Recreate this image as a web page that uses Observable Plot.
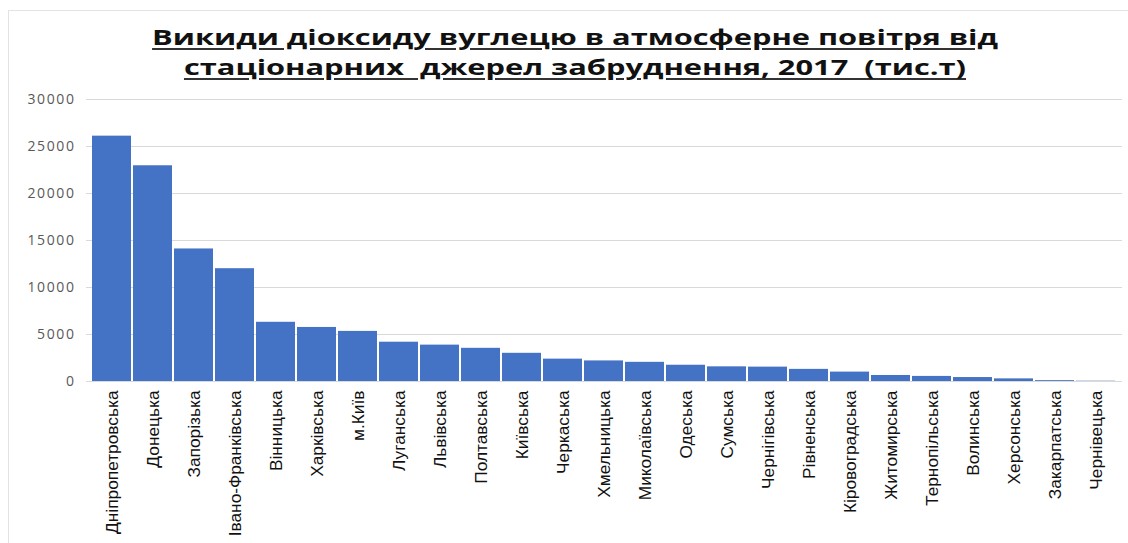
<!DOCTYPE html>
<html>
<head>
<meta charset="utf-8">
<script src="https://cdn.jsdelivr.net/npm/d3@7"></script>
<script src="https://cdn.jsdelivr.net/npm/@observablehq/plot@0.6"></script>
<style>
  html, body { margin: 0; padding: 0; background: #fff; overflow: hidden; }
  #frame { position: absolute; left: 8px; top: 10px; width: 1130px; height: 540px; border-left: 1px solid #e3e3e3; border-top: 1px solid #e3e3e3; }
  #title { position: absolute; left: 0; top: 21px; width: 1150px; text-align: center; transform: scaleX(1.4); transform-origin: 575px 0; font-family: "Open Sans", sans-serif; font-weight: 700; font-size: 22px; line-height: 30px; color: #111; text-decoration: underline; text-decoration-thickness: 2px; text-underline-offset: 3px; text-decoration-color: #333; }
  #chart { position: absolute; left: 0; top: 90px; }
  #chart g[aria-label="y-axis tick label"] text { letter-spacing: 1.6px; }
</style>
</head>
<body>
<div id="frame"></div>
<div id="title">Викиди діоксиду вуглецю в атмосферне повітря від<br>стаціонарних&nbsp; джерел забруднення, 2017&nbsp; (тис.т)</div>
<div id="chart"></div>
<script>
const regions = ["Дніпропетровська","Донецька","Запорізька","Івано-Франківська","Вінницька","Харківська","м.Київ","Луганська","Львівська","Полтавська","Київська","Черкаська","Хмельницька","Миколаївська","Одеська","Сумська","Чернігівська","Рівненська","Кіровоградська","Житомирська","Тернопільська","Волинська","Херсонська","Закарпатська","Чернівецька"];
const emissions = [26100, 22950, 14100, 12000, 6300, 5750, 5330, 4180, 3870, 3530, 3000, 2380, 2190, 2040, 1730, 1560, 1530, 1290, 1000, 640, 540, 420, 280, 90, 30];
const yTicks = [0, 5000, 10000, 15000, 20000, 25000, 30000];

const data = regions.map((r, i) => ({region: r, value: emissions[i]}));

const chart = Plot.plot({
  width: 1128,
  height: 453,
  marginTop: 9,
  marginBottom: 162,
  marginLeft: 86,
  marginRight: 6,
  style: {background: "transparent"},
  x: {domain: regions, padding: 0.04, label: null},
  y: {domain: [0, 30000], ticks: yTicks, label: null},
  marks: [
    Plot.gridY(yTicks, {stroke: "#d9d9d9", strokeOpacity: 1, strokeWidth: 1}),
    Plot.barY(data, {x: "region", y: "value", fill: "#4472c4"}),
    Plot.axisY(yTicks, {tickSize: 0, tickPadding: 11, tickFormat: d => String(d), fontSize: 14, fill: "#595959", fontFamily: "Open Sans, sans-serif", label: null}),
    Plot.axisX({tickSize: 0, tickRotate: -90, tickPadding: 9, fontSize: 17.3, fill: "#111", fontFamily: "'Liberation Sans Narrow', 'Arial Narrow', sans-serif", label: null})
  ]
});
document.getElementById("chart").appendChild(chart);
</script>
</body>
</html>
